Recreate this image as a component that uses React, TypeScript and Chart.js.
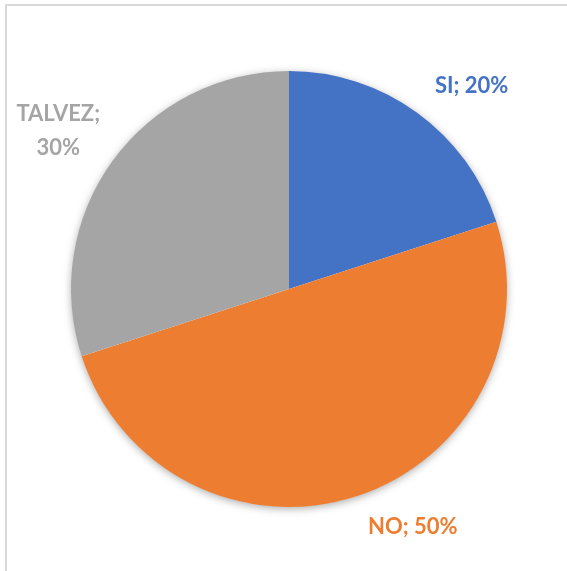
import React, { useEffect, useRef } from "react";
import { Chart, registerables } from "chart.js";

Chart.register(...registerables);

const categories = ["SI", "NO", "TALVEZ"];
const values = [20, 50, 30];
const colors = ["#4472C4", "#ED7D31", "#A5A5A5"];
// label placement: [angle shift in degrees, distance beyond the outer radius]
const labelPlacement = [
  [6, 55],
  [-9.5, 50],
  [-1.5, 62],
];

const shadowPlugin = {
  id: "pieShadow",
  beforeDatasetsDraw(chart: any) {
    const meta = chart.getDatasetMeta(0);
    const arc = meta.data[0];
    if (!arc) return;
    const { x, y, outerRadius } = arc.getProps(["x", "y", "outerRadius"], true);
    const ctx = chart.ctx;
    ctx.save();
    ctx.beginPath();
    ctx.arc(x, y, outerRadius - 0.5, 0, Math.PI * 2);
    ctx.fillStyle = "#ffffff";
    ctx.shadowColor = "rgba(0,0,0,0.35)";
    ctx.shadowBlur = 9;
    ctx.shadowOffsetX = 0;
    ctx.shadowOffsetY = 2;
    ctx.fill();
    ctx.restore();
  },
};

const labelPlugin = {
  id: "outLabels",
  afterDatasetsDraw(chart: any) {
    const meta = chart.getDatasetMeta(0);
    const total = values.reduce((a, b) => a + b, 0);
    const ctx = chart.ctx;
    ctx.save();
    ctx.font = "bold 22px Lato, 'Open Sans', sans-serif";
    ctx.textAlign = "center";
    ctx.textBaseline = "middle";
    meta.data.forEach((el: any, i: number) => {
      const { x, y, startAngle, endAngle, outerRadius } = el.getProps(
        ["x", "y", "startAngle", "endAngle", "outerRadius"],
        true
      );
      const mid = (startAngle + endAngle) / 2 + (labelPlacement[i][0] * Math.PI) / 180;
      const d = outerRadius + labelPlacement[i][1];
      const lx = x + Math.cos(mid) * d;
      const ly = y + Math.sin(mid) * d;
      const pct = Math.round((values[i] / total) * 100) + "%";
      ctx.fillStyle = colors[i];
      if (categories[i].length > 4) {
        ctx.fillText(categories[i] + ";", lx, ly - 17);
        ctx.fillText(pct, lx, ly + 17);
      } else {
        ctx.fillText(categories[i] + "; " + pct, lx, ly);
      }
    });
    ctx.restore();
  },
};

export default function App() {
  const ref = useRef<HTMLCanvasElement>(null);
  useEffect(() => {
    if (!ref.current) return;
    const chart = new Chart(ref.current, {
      type: "pie",
      data: {
        labels: categories,
        datasets: [
          {
            data: values,
            backgroundColor: colors,
            borderWidth: 0,
          },
        ],
      },
      options: {
        animation: false,
        responsive: false,
        maintainAspectRatio: false,
        layout: { padding: { left: 71, right: 60, top: 71, bottom: 64 } },
        plugins: {
          legend: { display: false },
          tooltip: { enabled: false },
        },
      },
      plugins: [shadowPlugin, labelPlugin],
    });
    return () => chart.destroy();
  }, []);
  return (
    <div
      style={{
        position: "fixed",
        left: 0,
        top: 0,
        width: 567,
        height: 571,
        background: "#ffffff",
        overflow: "hidden",
      }}
    >
      <div
        style={{
          position: "absolute",
          left: 5,
          top: 4,
          width: 700,
          height: 700,
          borderLeft: "2px solid #D9D9D9",
          borderTop: "2px solid #D9D9D9",
          boxSizing: "border-box",
        }}
      />
      <canvas
        ref={ref}
        width={567}
        height={571}
        style={{ position: "absolute", left: 0, top: 0, width: 567, height: 571 }}
      />
    </div>
  );
}
